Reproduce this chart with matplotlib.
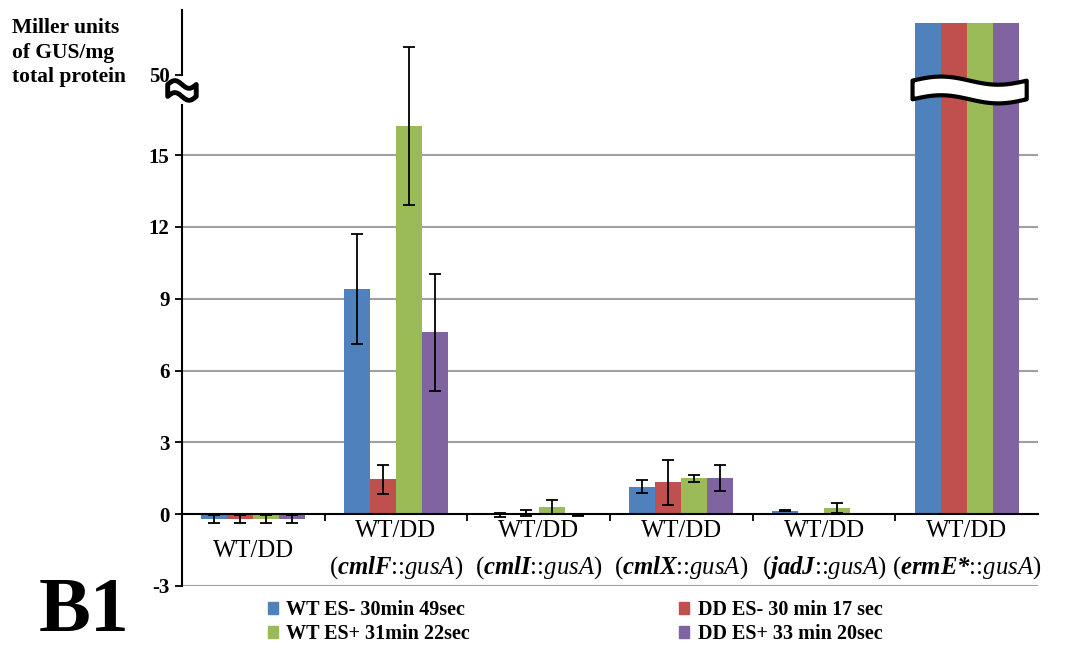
import numpy as np
import matplotlib
matplotlib.use("Agg")
import matplotlib.pyplot as plt
from matplotlib.patches import Patch

plt.rcParams["font.family"] = ["Liberation Serif", "DejaVu Serif"]
plt.rcParams["mathtext.fontset"] = "custom"
plt.rcParams["mathtext.rm"] = "Liberation Serif"
plt.rcParams["mathtext.it"] = "Liberation Serif:italic"
plt.rcParams["mathtext.bf"] = "Liberation Serif:bold"
plt.rcParams["mathtext.bfit"] = "Liberation Serif:bold:italic"

# data (ermE* bars are drawn cut at the break)
groups = [
    "WT/DD",
    "WT/DD\n($\\mathbfit{cmlF}$::$\\mathit{gusA}$)",
    "WT/DD\n($\\mathbfit{cmlI}$::$\\mathit{gusA}$)",
    "WT/DD\n($\\mathbfit{cmlX}$::$\\mathit{gusA}$)",
    "WT/DD\n($\\mathbfit{jadJ}$::$\\mathit{gusA}$)",
    "WT/DD\n($\\mathbfit{ermE{*}}$::$\\mathit{gusA}$)",
]
series = ["WT ES- 30min 49sec", "DD ES- 30 min 17 sec",
          "WT ES+ 31min 22sec", "DD ES+ 33 min 20sec"]
colors = ["#4F81BD", "#C0504D", "#9BBB59", "#8064A2"]

wt_es_minus = [-0.2, 9.4, -0.05, 1.15, 0.15, 20.5]
dd_es_minus = [-0.2, 1.45, 0.05, 1.33, -0.05, 20.5]
wt_es_plus = [-0.2, 16.2, 0.3, 1.5, 0.25, 20.5]
dd_es_plus = [-0.2, 7.6, -0.05, 1.5, -0.05, 20.5]

wt_es_minus_err = [0.15, 2.3, 0.08, 0.28, 0.03, 0]
dd_es_minus_err = [0.15, 0.6, 0.12, 0.95, 0.0, 0]
wt_es_plus_err = [0.15, 3.3, 0.3, 0.14, 0.22, 0]
dd_es_plus_err = [0.15, 2.45, 0.02, 0.55, 0.0, 0]

values = [wt_es_minus, dd_es_minus, wt_es_plus, dd_es_plus]
errors = [wt_es_minus_err, dd_es_minus_err, wt_es_plus_err, dd_es_plus_err]

ytick_vals = [-3, 0, 3, 6, 9, 12, 15, 18.35]
ytick_labels = ["-3", "0", "3", "6", "9", "12", "15", "50"]
grid_vals = [3, 6, 9, 12, 15]

fig = plt.figure(figsize=(10.78, 6.47), dpi=100)
ax = fig.add_axes([0.1688, 0.0943, 0.7942, 0.8902])

x = np.arange(len(groups)) + 0.5
w = 0.182
for i in range(4):
    xs = x + (i - 1.5) * w
    ax.bar(xs, values[i], w, color=colors[i], zorder=3)
    err = np.array(errors[i])
    m = err > 0
    ax.errorbar(xs[m], np.array(values[i])[m], yerr=err[m], fmt="none",
                ecolor="black", elinewidth=1.3, capsize=4, capthick=1.3, zorder=4)

for g in grid_vals:
    ax.axhline(g, color="#a0a0a0", lw=1.5, zorder=1)
ax.axhline(-3, color="#a0a0a0", lw=1.5, zorder=1)

ax.set_xlim(0, 6)
ax.set_ylim(-3, 21.06)

for s in ["top", "right"]:
    ax.spines[s].set_visible(False)
ax.spines["bottom"].set_position(("data", 0))
ax.spines["bottom"].set_linewidth(1.5)
ax.spines["bottom"].set_zorder(5)
ax.spines["left"].set_bounds(-3, 17.1)
ax.spines["left"].set_linewidth(1.5)
ax.plot([0, 0], [18.35, 21.06], color="black", lw=1.5, clip_on=False)

ax.set_xticks([1, 2, 3, 4, 5])
ax.set_xticklabels([])
ax.tick_params(axis="x", length=5, width=1.3, direction="out")
ax.set_yticks(ytick_vals)
ax.set_yticklabels(ytick_labels, fontsize=15, fontweight="bold")
ax.tick_params(axis="y", length=5, width=1.3, pad=4)

for xi, lab in zip(x, groups):
    ax.text(xi, -1.52, lab, ha="center", va="center", fontsize=17.8, linespacing=1.62)


def wave_band(xc, yc, wd, h, amp, lw):
    xx = np.linspace(xc - wd / 2, xc + wd / 2, 80)
    ph = (xx - xx[0]) / wd * 2 * np.pi
    top = yc + h / 2 + amp * np.sin(ph)
    bot = yc - h / 2 + amp * np.sin(ph)
    px = np.concatenate([xx, xx[::-1]])
    py = np.concatenate([top, bot[::-1]])
    ax.fill(px, py, facecolor="white", edgecolor="black", lw=lw,
            clip_on=False, zorder=6, joinstyle="round")


wave_band(5.52, 17.72, 0.8, 0.78, 0.17, 3)
wave_band(0.0, 17.7, 0.2, 0.5, 0.16, 3.5)

fig.text(0.011, 0.972, "Miller units\nof GUS/mg\ntotal protein", fontsize=15.5,
         fontweight="bold", va="top", ha="left", linespacing=1.3)
fig.text(0.036, 1 - 631 / 647, "B1", fontsize=56, fontweight="bold",
         va="baseline", ha="left")

handles = [Patch(color=c) for c in colors]
order = [0, 2, 1, 3]
fig.legend([handles[k] for k in order], [series[k] for k in order], ncol=2,
           loc="upper left", bbox_to_anchor=(258 / 1078, 1 - 590 / 647),
           frameon=False, borderpad=0, handlelength=0.5, handleheight=0.5,
           handletextpad=0.4, columnspacing=10.4, labelspacing=0.2,
           prop={"size": 14.5, "weight": "bold"})

fig.savefig("out.png", dpi=100)
